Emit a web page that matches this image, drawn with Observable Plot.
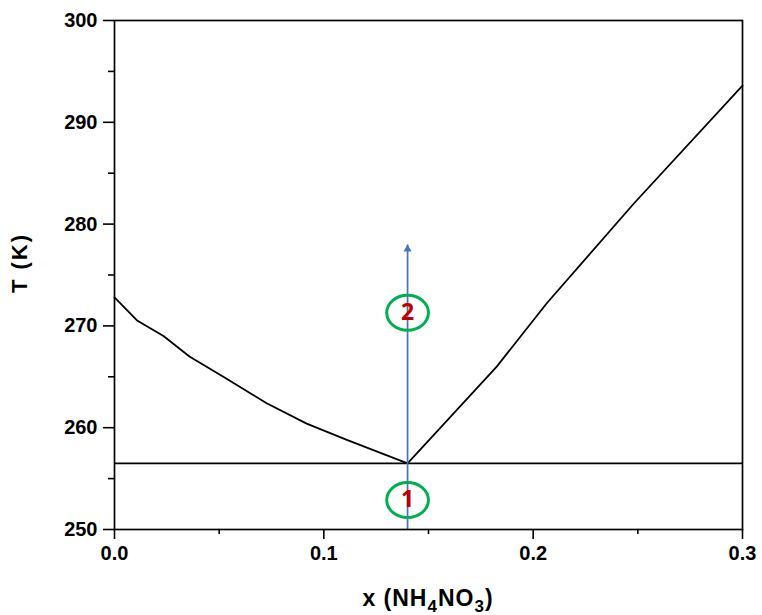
<!DOCTYPE html>
<html>
<head>
<meta charset="utf-8">
<script src="https://cdn.jsdelivr.net/npm/d3@7"></script>
<script src="https://cdn.jsdelivr.net/npm/@observablehq/plot@0.6"></script>
<style>
  html, body { margin: 0; padding: 0; background: #fff; }
  #chart { width: 762px; height: 615px; }
</style>
</head>
<body>
<div id="chart"></div>
<script>
// Liquidus branches (ice side and NH4NO3 side)
const iceX = [0.0, 0.011, 0.0234, 0.0358, 0.052, 0.0727, 0.0918, 0.111, 0.14];
const iceT = [272.8, 270.5, 269.0, 267.0, 265.0, 262.4, 260.4, 258.8, 256.5];
const saltX = [0.14, 0.1826, 0.2064, 0.248, 0.3];
const saltT = [256.5, 266.0, 272.2, 282.0, 293.6];
// Eutectic
const eutecticX = 0.14;
const eutecticT = 256.5;
// Arrow (path of heating)
const arrowFromT = 250;
const arrowToT = 278;
// Region markers
const regionLabels = ["1", "2"];
const regionT = [252.9, 271.3];
// Axes
const xTicks = [0, 0.1, 0.2, 0.3];
const xTickLabels = ["0.0", "0.1", "0.2", "0.3"];
const xMinorTicks = [0.05, 0.15, 0.25];
const yTicks = [250, 260, 270, 280, 290, 300];
const yTickLabels = ["250", "260", "270", "280", "290", "300"];
const yMinorTicks = [255, 265, 275, 285, 295];

const iceData = iceX.map((x, i) => ({x, T: iceT[i]}));
const saltData = saltX.map((x, i) => ({x, T: saltT[i]}));
const regions = regionLabels.map((l, i) => ({label: l, x: eutecticX, T: regionT[i]}));
const arrowData = [{x: eutecticX, y1: arrowFromT, y2: arrowToT}];

const ellipse = {
  draw(ctx, size) {
    const r = Math.sqrt(size / Math.PI);
    const rx = r * 1.19, ry = r;
    const k = 0.5522847498;
    ctx.moveTo(rx, 0);
    ctx.bezierCurveTo(rx, ry * k, rx * k, ry, 0, ry);
    ctx.bezierCurveTo(-rx * k, ry, -rx, ry * k, -rx, 0);
    ctx.bezierCurveTo(-rx, -ry * k, -rx * k, -ry, 0, -ry);
    ctx.bezierCurveTo(rx * k, -ry, rx, -ry * k, rx, 0);
    ctx.closePath();
  }
};

const font = "Liberation Sans, Arial, sans-serif";

const chart = Plot.plot({
  width: 762,
  height: 615,
  marginLeft: 114,
  marginRight: 20,
  marginTop: 20,
  marginBottom: 86,
  style: {fontFamily: font, fontSize: "20px", fontWeight: "bold", background: "#fff", color: "#000"},
  x: {domain: [0, 0.3], axis: null},
  y: {domain: [250, 300], axis: null},
  marks: [
    Plot.axisX({ticks: xMinorTicks, tickSize: 5, tickFormat: () => "", strokeWidth: 1.6, label: null}),
    Plot.axisX({ticks: xTicks, tickSize: 10, tickPadding: 6, strokeWidth: 1.6,
      tickFormat: (d) => xTickLabels[xTicks.indexOf(d)], label: null}),
    Plot.axisY({ticks: yMinorTicks, tickSize: 6, tickFormat: () => "", strokeWidth: 1.6, label: null}),
    Plot.axisY({ticks: yTicks, tickSize: 11, tickPadding: 6, strokeWidth: 1.6,
      tickFormat: (d) => yTickLabels[yTicks.indexOf(d)], label: null}),
    Plot.ruleY([eutecticT], {stroke: "#000", strokeWidth: 1.7}),
    Plot.line(iceData, {x: "x", y: "T", stroke: "#000", strokeWidth: 1.8}),
    Plot.line(saltData, {x: "x", y: "T", stroke: "#000", strokeWidth: 1.8}),
    Plot.link(arrowData, {x1: "x", x2: "x", y1: "y1", y2: "y2", stroke: "#4472C4", strokeWidth: 1.7}),
    Plot.dot(arrowData, {x: "x", y: "y2", symbol: "triangle", r: 3, fill: "#4472C4", stroke: "none", dy: 4.6}),
    Plot.dot(regions, {x: "x", y: "T", r: 17.5, symbol: ellipse, stroke: "#00B050", strokeWidth: 3, fill: "none"}),
    Plot.text(regions, {x: "x", y: "T", text: "label", fill: "#C00000", fontSize: 23, fontWeight: "bold",
      fontFamily: "Open Sans, Liberation Sans, sans-serif"}),
    Plot.frame({stroke: "#000", strokeWidth: 1.7})
  ]
});

document.getElementById("chart").appendChild(chart);

// Axis titles (with subscripts)
const svg = d3.select(chart);
const xl = svg.append("text")
  .attr("x", 428).attr("y", 606)
  .attr("text-anchor", "middle")
  .attr("font-family", font).attr("font-weight", "bold").attr("font-size", 23)
  .attr("letter-spacing", 1)
  .attr("fill", "#000");
xl.append("tspan").text("x (NH");
xl.append("tspan").attr("font-size", 17).attr("dy", 6).text("4");
xl.append("tspan").attr("dy", -6).text("NO");
xl.append("tspan").attr("font-size", 17).attr("dy", 6).text("3");
xl.append("tspan").attr("dy", -6).text(")");

svg.append("text")
  .attr("transform", "translate(27,263) rotate(-90)")
  .attr("text-anchor", "middle")
  .attr("font-family", font).attr("font-weight", "bold").attr("font-size", 22)
  .attr("letter-spacing", 2)
  .attr("fill", "#000")
  .text("T (K)");
</script>
</body>
</html>
